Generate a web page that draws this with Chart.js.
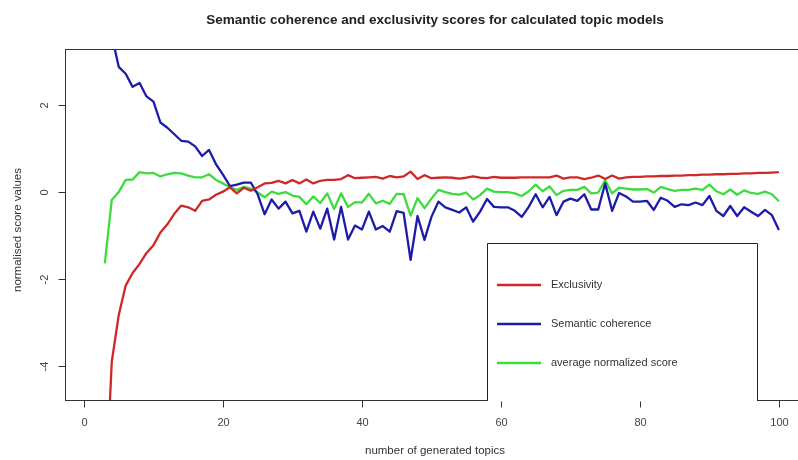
<!DOCTYPE html>
<html>
<head>
<meta charset="utf-8">
<title>Semantic coherence and exclusivity scores</title>
<script src="https://cdn.jsdelivr.net/npm/chart.js@4.4.0/dist/chart.umd.min.js"></script>
<style>
    html, body { margin: 0; padding: 0; background: #fff; overflow: hidden; }
    #wrap { width: 822px; height: 460px; }
</style>
</head>
<body>
<div id="wrap"><canvas id="topicChart" width="822" height="460"></canvas></div>
<script>
// number of generated topics (x)
const topics = [3, 4, 5, 6, 7, 8, 9, 10, 11, 12, 13, 14, 15, 16, 17, 18, 19, 20,
    21, 22, 23, 24, 25, 26, 27, 28, 29, 30, 31, 32, 33, 34, 35, 36, 37, 38, 39, 40,
    41, 42, 43, 44, 45, 46, 47, 48, 49, 50, 51, 52, 53, 54, 55, 56, 57, 58, 59, 60,
    61, 62, 63, 64, 65, 66, 67, 68, 69, 70, 71, 72, 73, 74, 75, 76, 77, 78, 79, 80,
    81, 82, 83, 84, 85, 86, 87, 88, 89, 90, 91, 92, 93, 94, 95, 96, 97, 98, 99, 100];

const exclusivity = [-7.3, -3.9, -2.83, -2.15, -1.86, -1.65, -1.4, -1.22, -0.93, -0.74, -0.5, -0.31, -0.35, -0.43, -0.2, -0.17, -0.06, 0.01,
    0.11, -0.03, 0.1, 0.03, 0.11, 0.2, 0.21, 0.26, 0.2, 0.28, 0.2, 0.29, 0.2, 0.26, 0.28, 0.28, 0.3, 0.39, 0.32, 0.33,
    0.34, 0.35, 0.31, 0.37, 0.34, 0.36, 0.47, 0.3, 0.39, 0.32, 0.33, 0.34, 0.33, 0.31, 0.33, 0.36, 0.33, 0.32, 0.35, 0.33,
    0.33, 0.33, 0.34, 0.34, 0.34, 0.34, 0.34, 0.38, 0.31, 0.34, 0.34, 0.3, 0.33, 0.38, 0.3, 0.38, 0.31, 0.34, 0.35, 0.35,
    0.36, 0.36, 0.37, 0.37, 0.38, 0.38, 0.39, 0.39, 0.4, 0.4, 0.41, 0.41, 0.42, 0.42, 0.43, 0.43, 0.44, 0.44, 0.45, 0.46];

const coherence = [4.0, 3.6, 2.88, 2.72, 2.42, 2.51, 2.2, 2.08, 1.6, 1.48, 1.33, 1.18, 1.16, 1.05, 0.83, 0.97, 0.64, 0.4,
    0.14, 0.17, 0.22, 0.22, -0.05, -0.51, -0.17, -0.38, -0.22, -0.49, -0.43, -0.91, -0.45, -0.84, -0.38, -1.09, -0.34, -1.09, -0.77, -0.86,
    -0.45, -0.86, -0.78, -0.91, -0.44, -0.48, -1.56, -0.55, -1.1, -0.57, -0.22, -0.35, -0.41, -0.47, -0.35, -0.68, -0.45, -0.16, -0.34, -0.35,
    -0.35, -0.43, -0.57, -0.34, -0.05, -0.35, -0.11, -0.53, -0.22, -0.15, -0.2, -0.05, -0.4, -0.4, 0.2, -0.43, -0.02, -0.1, -0.22, -0.22,
    -0.2, -0.41, -0.13, -0.2, -0.34, -0.28, -0.3, -0.24, -0.3, -0.09, -0.43, -0.55, -0.32, -0.55, -0.35, -0.45, -0.55, -0.41, -0.53, -0.87];

const avgScore = [-1.64, -0.18, 0.0, 0.28, 0.29, 0.46, 0.43, 0.44, 0.36, 0.41, 0.44, 0.43, 0.38, 0.34, 0.34, 0.41, 0.28, 0.2,
    0.11, 0.05, 0.12, 0.08, -0.01, -0.12, 0.01, -0.04, 0.0, -0.08, -0.11, -0.28, -0.1, -0.25, -0.03, -0.39, -0.03, -0.34, -0.23, -0.24,
    -0.04, -0.26, -0.2, -0.27, -0.04, -0.05, -0.54, -0.14, -0.37, -0.15, 0.05, 0.0, -0.04, -0.06, -0.01, -0.17, -0.07, 0.08, 0.01, 0.0,
    0.0, -0.03, -0.09, 0.02, 0.17, 0.02, 0.13, -0.07, 0.03, 0.05, 0.05, 0.12, -0.03, -0.01, 0.27, -0.03, 0.1, 0.08, 0.06, 0.06,
    0.07, -0.01, 0.12, 0.07, 0.03, 0.05, 0.05, 0.08, 0.05, 0.17, 0.02, -0.05, 0.06, -0.06, 0.04, -0.02, -0.04, 0.01, -0.05, -0.21];

const xTicks = [0, 20, 40, 60, 80, 100];
const yTicks = [-4, -2, 0, 2];

const FONT = "'Liberation Sans', Arial, sans-serif";

function toPoints(values) {
    return topics.map((t, i) => ({ x: t, y: values[i] }));
}

// R-style box, axes, titles and legend
const rPlotStyle = {
    id: 'rPlotStyle',
    afterDraw(chart) {
        const { ctx, chartArea: a, scales: { x, y } } = chart;
        const L = Math.round(a.left) + 0.5, R = Math.round(a.right) + 0.5;
        const T = Math.round(a.top) + 0.5, B = Math.round(a.bottom) + 0.5;
        ctx.save();

        // plot box
        ctx.strokeStyle = '#333';
        ctx.lineWidth = 1;
        ctx.strokeRect(L, T, R - L, B - T);

        // x axis ticks + labels
        ctx.fillStyle = '#444';
        ctx.font = '11px ' + FONT;
        ctx.textAlign = 'center';
        ctx.textBaseline = 'middle';
        xTicks.forEach(v => {
            const px = Math.round(x.getPixelForValue(v)) + 0.5;
            ctx.beginPath();
            ctx.moveTo(px, B);
            ctx.lineTo(px, B + 7);
            ctx.stroke();
            ctx.fillText(String(v), px, 423);
        });

        // y axis ticks + rotated labels
        yTicks.forEach(v => {
            const py = Math.round(y.getPixelForValue(v)) + 0.5;
            ctx.beginPath();
            ctx.moveTo(L, py);
            ctx.lineTo(L - 7, py);
            ctx.stroke();
            ctx.save();
            ctx.translate(45, py);
            ctx.rotate(-Math.PI / 2);
            ctx.fillText(String(v), 0, 0);
            ctx.restore();
        });

        // axis titles
        ctx.fillStyle = '#333';
        ctx.font = '11.5px ' + FONT;
        ctx.fillText('number of generated topics', 435, 451);
        ctx.save();
        ctx.translate(18, 230);
        ctx.rotate(-Math.PI / 2);
        ctx.fillText('normalised score values', 0, 0);
        ctx.restore();

        // main title
        ctx.fillStyle = '#222';
        ctx.font = 'bold 13.5px ' + FONT;
        ctx.fillText('Semantic coherence and exclusivity scores for calculated topic models', 435, 20);

        // legend box (runs past the bottom of the plot and hides the border there)
        const lx = 487.5, lr = 757.5, lt = 243.5;
        ctx.fillStyle = '#fff';
        ctx.fillRect(lx, lt, lr - lx, B - lt + 1);
        ctx.strokeStyle = '#222';
        ctx.lineWidth = 1;
        ctx.beginPath();
        ctx.moveTo(lx, B + 0.5);
        ctx.lineTo(lx, lt);
        ctx.lineTo(lr, lt);
        ctx.lineTo(lr, B + 0.5);
        ctx.stroke();

        const rows = [285, 324, 363];
        ctx.font = '11px ' + FONT;
        ctx.textAlign = 'left';
        chart.data.datasets.forEach((ds, i) => {
            ctx.strokeStyle = ds.borderColor;
            ctx.lineWidth = ds.borderWidth;
            ctx.beginPath();
            ctx.moveTo(497, rows[i]);
            ctx.lineTo(541, rows[i]);
            ctx.stroke();
            ctx.fillStyle = '#333';
            ctx.fillText(ds.label, 551, rows[i]);
        });

        ctx.restore();
    }
};

const ctx = document.getElementById('topicChart').getContext('2d');
new Chart(ctx, {
    type: 'line',
    data: {
        datasets: [
            { label: 'Exclusivity', data: toPoints(exclusivity), borderColor: '#d02828', borderWidth: 2.3 },
            { label: 'Semantic coherence', data: toPoints(coherence), borderColor: '#1c1ca8', borderWidth: 2.3 },
            { label: 'average normalized score', data: toPoints(avgScore), borderColor: '#3ddc3d', borderWidth: 2.3 }
        ]
    },
    options: {
        responsive: false,
        animation: false,
        devicePixelRatio: 1,
        layout: { padding: { left: 65, right: 16, top: 49, bottom: 60 } },
        elements: {
            point: { radius: 0 },
            line: { tension: 0, borderJoinStyle: 'round' }
        },
        scales: {
            x: { type: 'linear', display: false, min: -2.73, max: 103.9 },
            y: { type: 'linear', display: false, min: -4.78, max: 3.29 }
        },
        plugins: {
            legend: { display: false },
            title: { display: false },
            tooltip: { enabled: false }
        }
    },
    plugins: [rPlotStyle]
});
</script>
</body>
</html>
